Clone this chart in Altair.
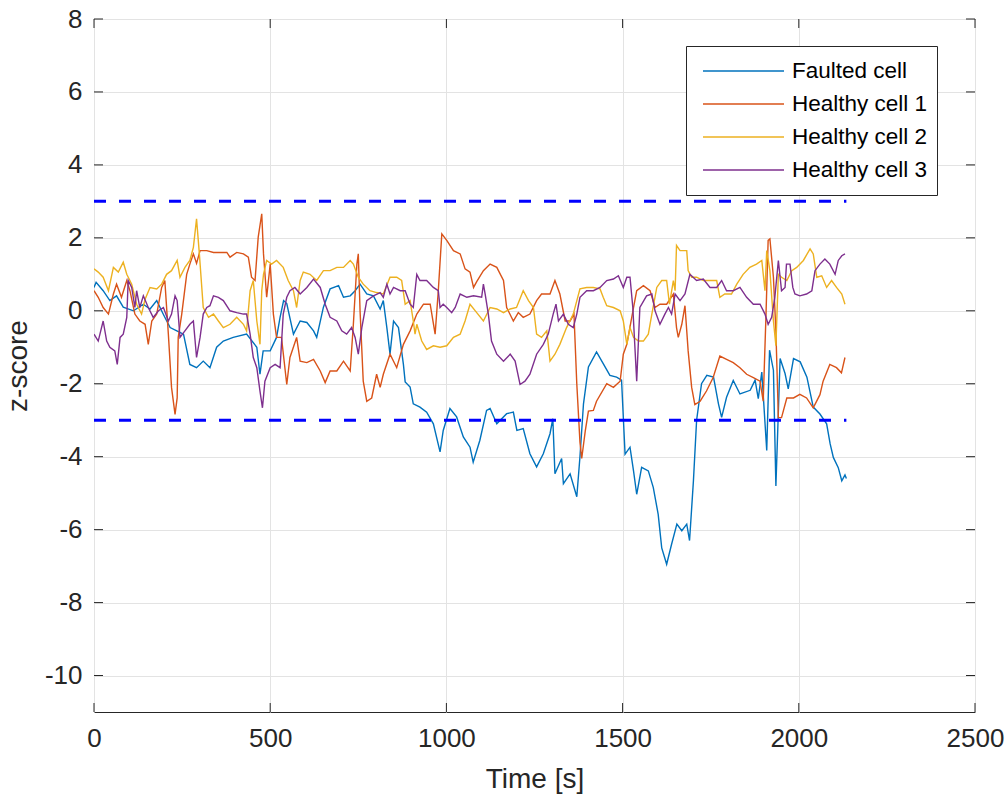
import altair as alt
import pandas as pd

series_names = ["Faulted cell", "Healthy cell 1", "Healthy cell 2", "Healthy cell 3"]
series_colors = ["#0072BD", "#D95319", "#EDB120", "#7E2F8E"]

x_ticks = [0, 500, 1000, 1500, 2000, 2500]
y_ticks = [-10, -8, -6, -4, -2, 0, 2, 4, 6, 8]

faulted_t = [0, 6, 26, 45, 64, 83, 112, 140, 159, 178, 197, 216, 235, 254, 272, 291, 310, 329, 348, 367,
             395, 433, 462, 471, 480, 500, 518, 528, 538, 547, 566, 585, 604, 623, 632, 651, 670, 694, 708, 727,
             741, 755, 774, 793, 812, 821, 831, 840, 850, 864, 878, 883, 897, 906, 925, 944, 963, 982, 991, 1010,
             1029, 1048, 1067, 1076, 1095, 1114, 1124, 1143, 1171, 1190, 1200, 1218, 1237, 1256, 1275, 1294, 1302, 1308, 1327, 1332,
             1351, 1370, 1379, 1389, 1403, 1426, 1445, 1464, 1483, 1497, 1507, 1521, 1531, 1540, 1554, 1573, 1587, 1601, 1611, 1625,
             1639, 1654, 1668, 1682, 1690, 1701, 1710, 1724, 1739, 1758, 1772, 1781, 1795, 1814, 1833, 1862, 1876, 1885, 1895, 1909,
             1917, 1928, 1935, 1947, 1961, 1970, 1985, 2004, 2023, 2041, 2060, 2079, 2089, 2098, 2112, 2122, 2131, 2135]
faulted_z = [0.64, 0.78, 0.55, 0.28, 0.41, 0.1, 0.0, 0.18, 0.05, 0.28, -0.1, -0.46, -0.55, -0.64, -1.47, -1.56, -1.38, -1.56, -1.0, -0.83,
             -0.73, -0.64, -1.0, -1.74, -1.1, -1.1, -0.73, -0.18, 0.28, 0.2, -0.64, -0.28, -0.32, -0.55, -0.73, 0.1, 0.6, 0.69, 0.37, 0.41,
             0.55, 0.73, 0.46, 0.41, 0.05, 0.28, -0.46, -1.19, -0.28, -0.46, -1.47, -1.95, -2.09, -2.55, -2.64, -2.78, -3.1, -3.87, -3.28, -2.68,
             -2.91, -3.46, -3.74, -4.15, -3.55, -2.73, -2.68, -3.1, -2.82, -2.78, -3.28, -3.23, -3.92, -4.28, -3.92, -3.37, -2.96, -4.47, -4.05, -4.74,
             -4.47, -5.1, -4.0, -2.55, -1.54, -1.13, -1.45, -1.77, -1.82, -1.9, -3.93, -3.74, -4.39, -5.03, -4.29, -4.39, -4.84, -5.58, -6.5, -6.95,
             -6.4, -5.85, -6.03, -5.85, -6.3, -4.66, -3.0, -2.0, -1.77, -1.82, -2.55, -2.92, -2.37, -1.91, -2.28, -2.18, -1.9, -2.41, -1.68, -3.83,
             -1.08, -1.63, -4.8, -1.31, -1.72, -2.14, -1.31, -1.4, -1.82, -2.64, -2.83, -3.1, -3.65, -4.02, -4.3, -4.66, -4.5, -4.6]

healthy1_t = [0, 12, 26, 41, 55, 64, 78, 93, 102, 116, 130, 145, 154, 164, 178, 192, 201, 211, 220, 230,
              236, 239, 249, 263, 272, 282, 291, 301, 320, 339, 358, 377, 386, 405, 424, 438, 447, 457, 466, 476,
              481, 490, 500, 509, 518, 532, 547, 556, 575, 585, 604, 623, 642, 656, 670, 689, 708, 727, 736, 746,
              750, 755, 764, 774, 788, 802, 812, 821, 840, 859, 878, 897, 916, 935, 954, 968, 977, 987, 1001, 1020,
              1039, 1053, 1067, 1077, 1086, 1105, 1124, 1143, 1162, 1171, 1190, 1204, 1218, 1237, 1256, 1270, 1294, 1308, 1322, 1337,
              1351, 1362, 1370, 1379, 1384, 1394, 1403, 1417, 1426, 1455, 1474, 1493, 1502, 1512, 1531, 1540, 1559, 1578, 1592, 1606,
              1625, 1644, 1653, 1658, 1668, 1677, 1686, 1696, 1705, 1720, 1738, 1757, 1776, 1795, 1814, 1833, 1852, 1871, 1890, 1899,
              1907, 1913, 1918, 1928, 1935, 1942, 1951, 1966, 1985, 2003, 2022, 2041, 2060, 2069, 2088, 2107, 2121, 2131]
healthy1_z = [0.55, 0.37, 0.09, -0.09, 0.46, 0.73, 0.37, 0.83, 0.55, -0.09, -0.28, -0.37, -0.92, -0.28, -0.09, 0.64, 0.83, -0.64, -2.1, -2.84,
              -2.39, -0.73, -0.09, 1.0, 1.28, 1.56, 1.3, 1.65, 1.65, 1.6, 1.6, 1.6, 1.47, 1.6, 1.56, 1.47, 0.92, 0.83, 2.02, 2.66,
              1.56, 0.37, 1.28, -0.09, -0.73, -0.73, -2.02, -1.28, -0.73, -1.38, -1.42, -1.33, -1.65, -1.97, -1.65, -1.65, -1.38, -1.65, -0.37, 1.28,
              1.56, 0.0, -1.93, -2.48, -2.39, -1.74, -2.1, -1.74, -1.19, -1.56, -0.92, -0.55, -0.09, 0.18, 0.18, -0.64, 0.55, 2.11, 1.93, 1.65,
              1.56, 1.15, 1.06, 0.64, 0.8, 1.1, 1.28, 1.19, 0.83, 0.09, -0.28, -0.05, -0.18, -0.09, 0.28, 0.46, 0.46, 0.83, 0.46, -0.28,
              -0.28, -0.09, -2.0, -3.6, -4.05, -3.3, -2.75, -2.73, -2.48, -2.0, -2.1, -1.93, -1.19, -0.92, 0.09, 0.55, 0.69, 0.55, 0.09, 0.18,
              0.18, 0.46, -0.46, -0.73, -0.37, 0.14, -1.1, -2.1, -2.57, -2.48, -2.2, -1.83, -1.24, -1.33, -1.42, -1.56, -1.74, -1.83, -1.93, -2.48,
              -0.09, 1.93, 1.97, 0.92, -0.55, -2.93, -2.93, -2.39, -2.39, -2.29, -2.39, -2.66, -2.3, -1.93, -1.47, -1.56, -1.7, -1.28]

healthy2_t = [0, 12, 26, 41, 55, 69, 83, 93, 107, 121, 135, 145, 159, 178, 192, 206, 220, 236, 244, 258,
              272, 282, 291, 299, 310, 325, 339, 353, 367, 386, 405, 424, 433, 443, 452, 462, 471, 476, 481, 490,
              504, 518, 537, 551, 566, 575, 585, 594, 613, 632, 651, 670, 689, 708, 727, 736, 750, 764, 783, 802,
              821, 840, 859, 873, 883, 897, 906, 911, 916, 930, 944, 963, 982, 1001, 1020, 1039, 1053, 1067, 1086, 1105,
              1124, 1143, 1162, 1181, 1199, 1218, 1233, 1247, 1256, 1270, 1285, 1294, 1308, 1322, 1341, 1360, 1379, 1398, 1417, 1436,
              1445, 1455, 1474, 1493, 1502, 1512, 1521, 1531, 1545, 1559, 1573, 1583, 1597, 1611, 1625, 1633, 1644, 1649, 1653, 1663,
              1682, 1686, 1696, 1710, 1729, 1748, 1767, 1776, 1790, 1809, 1824, 1842, 1861, 1880, 1895, 1904, 1909, 1918, 1928, 1935,
              1942, 1951, 1966, 1980, 1994, 2013, 2032, 2041, 2051, 2065, 2079, 2093, 2107, 2122, 2131]
healthy2_z = [1.15, 1.06, 0.92, 0.55, 1.19, 1.06, 1.33, 1.0, 0.73, 0.18, -0.09, 0.32, 0.64, 0.6, 0.73, 1.0, 1.1, 1.38, 0.92, 1.19,
              1.38, 1.74, 2.52, 1.56, 0.09, -0.18, -0.09, -0.28, -0.46, -0.37, -0.18, -0.37, -0.55, 0.55, 0.83, -0.28, -0.92, 0.55, 1.0, 1.38,
              1.28, 1.38, 1.19, 0.83, 0.55, 0.09, 0.83, 1.06, 1.0, 0.83, 1.1, 1.1, 1.19, 1.19, 1.38, 1.28, 0.92, 0.73, 0.55, 0.5,
              0.46, 0.92, 0.92, 0.83, 0.18, 0.28, -0.28, -0.64, -0.37, -0.83, -1.06, -0.96, -1.0, -0.96, -0.73, -0.64, -0.28, 0.18, -0.05, -0.28,
              0.09, 0.05, -0.05, 0.05, 0.09, 0.55, 0.28, 0.09, -0.64, -0.73, -0.55, -1.38, -1.19, -0.92, -0.46, -0.09, 0.6, 0.64, 0.64, 0.6,
              0.37, 0.14, 0.09, 0.0, -0.28, -0.92, -0.46, -0.73, -0.83, -0.83, -0.64, -0.09, 0.64, 0.83, 0.83, 0.18, 0.83, 0.55, 1.79, 1.65,
              1.65, 1.1, 0.92, 0.92, 0.83, 0.83, 0.83, 0.37, 0.46, 0.46, 0.73, 1.0, 1.19, 1.28, 1.38, 0.55, 1.65, 1.1, -0.28, -0.96,
              1.0, 0.92, 0.83, 1.1, 1.19, 1.38, 1.7, 1.56, 0.92, 0.96, 0.64, 0.83, 0.64, 0.46, 0.18]

healthy3_t = [0, 12, 26, 36, 45, 59, 66, 74, 83, 93, 97, 107, 116, 121, 130, 140, 154, 168, 183, 197,
              211, 220, 230, 236, 244, 258, 272, 282, 291, 301, 310, 320, 329, 339, 353, 367, 386, 405, 424, 433,
              443, 452, 462, 471, 478, 485, 500, 514, 528, 537, 547, 556, 570, 585, 604, 623, 642, 656, 670, 689,
              703, 717, 731, 741, 750, 760, 774, 793, 812, 821, 831, 840, 850, 869, 883, 897, 906, 916, 925, 944,
              963, 977, 982, 991, 1001, 1015, 1025, 1039, 1058, 1077, 1100, 1105, 1110, 1119, 1128, 1143, 1162, 1181, 1195, 1209,
              1223, 1237, 1256, 1275, 1289, 1303, 1311, 1318, 1332, 1346, 1360, 1370, 1379, 1398, 1417, 1436, 1455, 1474, 1488, 1502,
              1512, 1521, 1529, 1540, 1549, 1568, 1583, 1592, 1606, 1620, 1630, 1639, 1649, 1663, 1677, 1691, 1710, 1729, 1748, 1767,
              1781, 1795, 1814, 1833, 1852, 1871, 1890, 1904, 1913, 1923, 1932, 1942, 1951, 1961, 1965, 1975, 1983, 1989, 2003, 2022,
              2037, 2046, 2060, 2074, 2088, 2103, 2112, 2122, 2131]
healthy3_z = [-0.64, -0.83, -0.28, -0.83, -1.0, -1.1, -1.47, -0.73, -0.64, -0.18, 0.83, 0.64, 0.09, 0.55, 0.09, 0.41, 0.09, -0.18, 0.0, 0.09,
              -0.28, -0.09, 0.41, 0.28, -0.73, -0.55, -0.37, -0.28, -1.28, -0.73, -0.09, 0.09, 0.14, 0.41, 0.37, 0.28, 0.0, -0.05, -0.09, -0.09,
              -0.64, -1.28, -1.56, -2.2, -2.66, -1.93, -1.56, -1.47, -1.56, -0.09, 0.37, 0.55, 0.64, 0.46, 0.64, 0.87, 0.64, 0.18, -0.18, -0.28,
              -0.55, -0.64, -0.46, -0.73, -1.19, -0.46, 0.28, 0.41, 0.5, 0.37, 0.73, 0.46, 0.64, 0.55, 0.55, 0.18, 0.09, 1.0, 0.83, 0.83,
              0.64, 0.55, 0.09, 0.18, 0.09, -0.05, 0.09, 0.46, 0.37, 0.41, 0.37, 0.73, 0.46, -0.09, -0.83, -1.19, -1.38, -1.19, -1.38, -2.02,
              -1.93, -1.74, -1.19, -0.92, -0.64, -0.09, 0.18, -0.28, -0.09, -0.37, -0.46, -0.09, 0.37, 0.55, 0.55, 0.64, 0.83, 0.87, 0.96, 0.64,
              0.92, 0.92, 0.09, -1.93, 0.09, 0.41, 0.46, 0.0, -0.37, -0.09, 0.09, -0.09, 0.46, 0.28, 0.46, 1.0, 0.83, 0.87, 0.64, 0.64,
              0.83, 0.55, 0.55, 0.64, 0.37, 0.18, 0.18, -0.09, -0.37, -0.18, 0.37, 1.38, 0.55, 0.64, 1.28, 1.28, 0.64, 0.46, 0.41, 0.46,
              0.55, 1.1, 1.28, 1.42, 1.28, 1.0, 1.38, 1.51, 1.56]

threshold_z = [3, -3]
threshold_t_start = [0, 0]
threshold_t_end = [2135, 2135]

FONT = "Liberation Sans"
INK = "#262626"

rows = []
for name, ts, zs in zip(series_names,
                        [faulted_t, healthy1_t, healthy2_t, healthy3_t],
                        [faulted_z, healthy1_z, healthy2_z, healthy3_z]):
    for i, (t, z) in enumerate(zip(ts, zs)):
        rows.append({"series": name, "t": t, "z": z, "idx": i})
df = pd.DataFrame(rows)

xscale = alt.Scale(domain=[0, 2500], nice=False, zero=False)
yscale = alt.Scale(domain=[-11, 8], nice=False, zero=False)

x_axis = alt.Axis(values=x_ticks, title="Time [s]", titleFontSize=28, titleFont=FONT,
                  titleFontWeight="normal", titleColor=INK, titlePadding=14,
                  labelFontSize=26, labelFont=FONT, labelColor=INK, labelPadding=13,
                  labelExpr="'' + datum.value",
                  labelFlush=False, labelOverlap=False, ticks=False, domain=False,
                  grid=True, gridColor="#e3e3e3", gridWidth=1)
y_axis = alt.Axis(values=y_ticks, title="z-score", titleFontSize=28, titleFont=FONT,
                  titleFontWeight="normal", titleColor=INK, titlePadding=12,
                  labelFontSize=26, labelFont=FONT, labelColor=INK, labelPadding=12,
                  labelExpr="'' + datum.value", labelOverlap=False, ticks=False, domain=False,
                  grid=True, gridColor="#e3e3e3", gridWidth=1)

lines = alt.Chart(df).mark_line(strokeWidth=1.4, clip=True).encode(
    x=alt.X("t:Q", scale=xscale, axis=x_axis),
    y=alt.Y("z:Q", scale=yscale, axis=y_axis),
    color=alt.Color("series:N",
                    scale=alt.Scale(domain=series_names, range=series_colors),
                    legend=alt.Legend(orient="none", legendX=592, legendY=27, title=None,
                                      symbolType="stroke", symbolSize=6561, symbolStrokeWidth=1.5,
                                      clipHeight=32, rowPadding=1, labelFontSize=22.5, labelFont=FONT,
                                      labelColor="#000000", labelOffset=7, padding=9, symbolOffset=7,
                                      strokeColor=INK, fillColor="white", labelLimit=400)),
    order=alt.Order("idx:Q"),
)

thr_df = pd.DataFrame({"t0": threshold_t_start, "t1": threshold_t_end, "z": threshold_z})
thresholds = alt.Chart(thr_df).mark_rule(color="#0000FF", strokeWidth=3, strokeDash=[12, 13]).encode(
    x=alt.X("t0:Q", scale=xscale), x2="t1:Q", y=alt.Y("z:Q", scale=yscale)
)

xt = pd.DataFrame({"v": x_ticks})
yt = pd.DataFrame({"v": y_ticks})
W, H, TL = 881, 693, 9
tick_bottom = alt.Chart(xt).mark_rule(color=INK, strokeWidth=1).encode(
    x=alt.X("v:Q", scale=xscale), y=alt.value(H), y2=alt.value(H - TL))
tick_top = alt.Chart(xt).mark_rule(color=INK, strokeWidth=1).encode(
    x=alt.X("v:Q", scale=xscale), y=alt.value(0), y2=alt.value(TL))
tick_left = alt.Chart(yt).mark_rule(color=INK, strokeWidth=1).encode(
    y=alt.Y("v:Q", scale=yscale), x=alt.value(0), x2=alt.value(TL))
tick_right = alt.Chart(yt).mark_rule(color=INK, strokeWidth=1).encode(
    y=alt.Y("v:Q", scale=yscale), x=alt.value(W), x2=alt.value(W - TL))

chart = alt.layer(lines, thresholds, tick_bottom, tick_top, tick_left, tick_right).properties(
    width=W, height=H,
    padding={"left": 94, "top": 19, "right": 31, "bottom": 86},
    autosize=alt.AutoSizeParams(type="none"),
    background="white",
).configure_view(stroke=INK, strokeWidth=1)

chart.save("out.html", embed_options={"renderer": "svg", "actions": False})
